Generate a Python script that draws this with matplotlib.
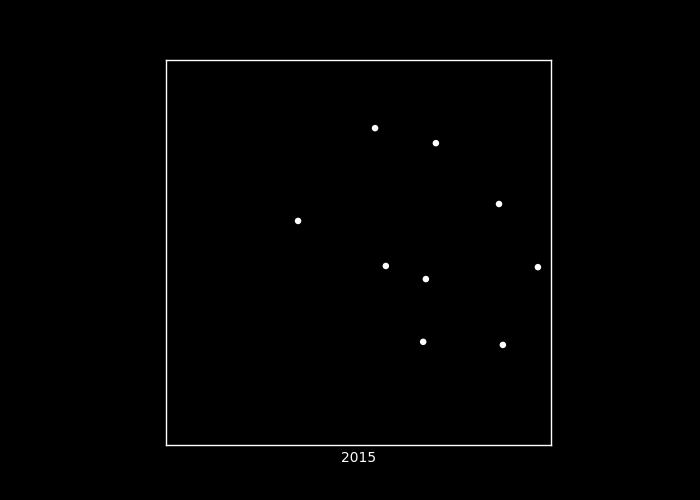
import matplotlib.pyplot as plt

# point positions (axes run 0..1)
x = [0.543, 0.701, 0.343, 0.865, 0.571, 0.675, 0.966, 0.668, 0.875]
y = [0.823, 0.784, 0.582, 0.626, 0.465, 0.431, 0.462, 0.268, 0.260]
label = "2015"

fig = plt.figure(figsize=(7, 5), dpi=100, facecolor="black")
ax = fig.add_axes([166 / 700, 55 / 500, 385 / 700, 385 / 500])
ax.set_facecolor("black")

ax.scatter(x, y, s=22, color="white", edgecolors="none")

ax.set_xlim(0, 1)
ax.set_ylim(0, 1)
ax.set_xticks([])
ax.set_yticks([])
for sp in ax.spines.values():
    sp.set_color("white")
    sp.set_linewidth(1)

ax.set_xlabel(label, color="white", fontsize=10, labelpad=4)

fig.savefig("out.png", facecolor="black")
